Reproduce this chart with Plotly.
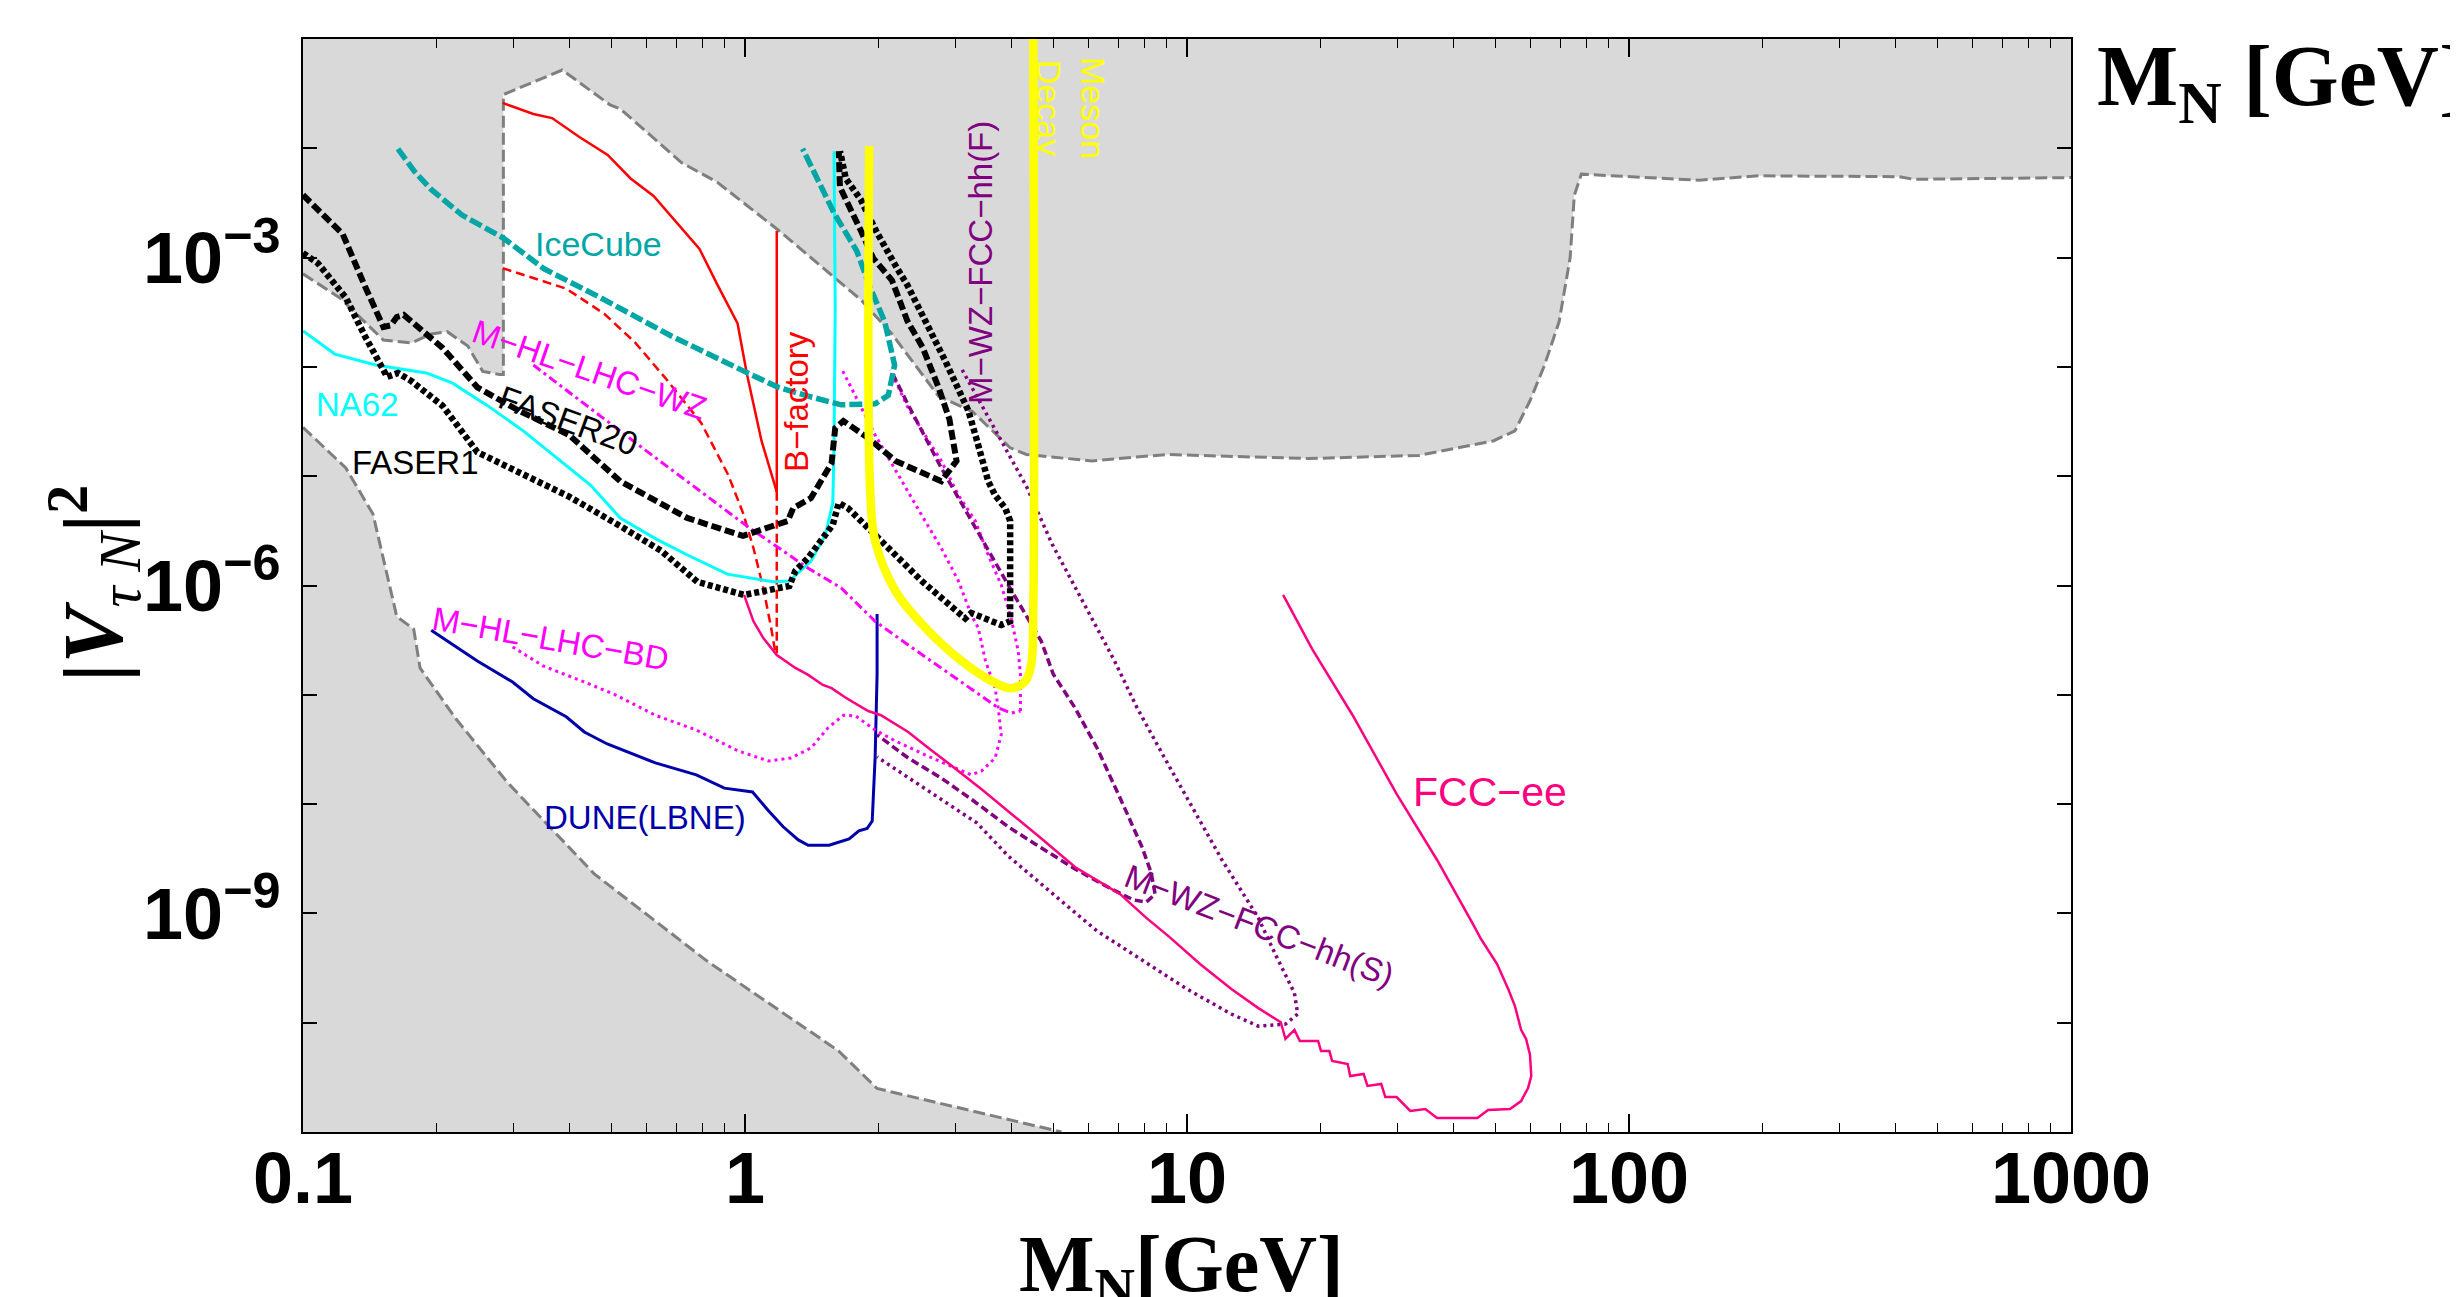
import plotly.graph_objects as go

# ---------------- data ----------------
# upper excluded (grey) region boundary
upper_excl_m = [0.1, 0.121, 0.152, 0.176, 0.195, 0.212, 0.236, 0.255, 0.279, 0.284, 0.284, 0.386, 0.495, 0.522,
                0.718, 0.865, 1.19, 1.50, 1.83, 2.15, 2.74, 3.27, 3.98, 4.33, 6.08, 9.0, 18.8, 33.5, 49.3, 55.2,
                59.7, 64.3, 69.5, 73.6, 75.2, 78.0, 144, 196, 408, 441, 1000]
upper_excl_v = [7.1e-4, 4.3e-4, 1.76e-4, 1.66e-4, 2.0e-4, 2.1e-4, 1.55e-4, 9.1e-5, 8.5e-5, 8.5e-5, 3.1e-2, 5.2e-2,
                2.5e-2, 2.3e-2, 7.4e-3, 4.9e-3, 1.78e-3, 8.1e-4, 4.1e-4, 2.0e-4, 5.4e-5, 3.9e-5, 1.82e-5, 1.58e-5,
                1.38e-5, 1.58e-5, 1.45e-5, 1.55e-5, 2.1e-5, 2.6e-5, 4.9e-5, 1.02e-4, 2.6e-4, 1.0e-3, 3.7e-3,
                5.8e-3, 5.1e-3, 5.6e-3, 5.5e-3, 5.2e-3, 5.4e-3]
upper_excl_corner_m = [1000, 0.1]
upper_excl_corner_v = [0.1, 0.1]

# lower-left excluded (grey) region boundary
lower_excl_m = [0.1, 0.125, 0.144, 0.163, 0.178, 0.184, 0.222, 0.290, 0.456, 0.818, 1.63, 1.99, 5.2]
lower_excl_v = [2.8e-5, 1.19e-5, 4.5e-6, 5.2e-7, 4.0e-7, 1.76e-7, 6.0e-8, 1.58e-8, 2.3e-9, 3.7e-10, 5.5e-11,
                2.5e-11, 1e-11]
lower_excl_corner_m = [0.1]
lower_excl_corner_v = [1e-11]

icecube_m = [0.164, 0.179, 0.195, 0.229, 0.284, 0.351, 0.471, 0.681, 0.991, 1.19, 1.39, 1.65, 1.97, 2.11, 2.18,
             2.07, 1.91, 1.79, 1.59, 1.35]
icecube_v = [9.9e-3, 6.1e-3, 4.2e-3, 2.45e-3, 1.51e-3, 7.9e-4, 4.3e-4, 1.92e-4, 9.2e-5, 6.5e-5, 5.4e-5, 4.5e-5,
             4.6e-5, 5.5e-5, 1.04e-4, 2.6e-4, 5.6e-4, 1.15e-3, 2.56e-3, 9.9e-3]

bfac_solid_m = [0.283, 0.332, 0.366, 0.422, 0.489, 0.551, 0.621, 0.700, 0.789, 0.867, 0.962, 1.01, 1.09, 1.18]
bfac_solid_v = [2.6e-2, 2.06e-2, 1.89e-2, 1.27e-2, 8.7e-3, 5.3e-3, 3.66e-3, 2.12e-3, 1.2e-3, 5.6e-4, 2.5e-4,
                8.6e-5, 2.1e-5, 7.2e-6]
bfac_dash_m = [0.283, 0.332, 0.394, 0.481, 0.565, 0.664, 0.796, 0.916, 0.99, 1.045, 1.10, 1.146, 1.17]
bfac_dash_v = [8.0e-4, 6.5e-4, 5.2e-4, 3.05e-4, 1.66e-4, 7.7e-5, 3.07e-5, 1.03e-5, 4.6e-6, 2.2e-6, 9.5e-7,
               4.1e-7, 2.5e-7]
bfac_vert_m = [1.18, 1.18]
bfac_vert_solid_v = [1.75e-3, 7.2e-6]
bfac_vert_dash_v = [7.2e-6, 2.4e-7]

na62_m = [0.1, 0.118, 0.146, 0.190, 0.218, 0.262, 0.315, 0.371, 0.447, 0.522, 0.630, 0.741, 0.912, 1.16, 1.26,
          1.41, 1.52, 1.58, 1.59, 1.60, 1.59]
na62_v = [2.13e-4, 1.31e-4, 1.04e-4, 8.8e-5, 7.1e-5, 4.4e-5, 2.6e-5, 1.53e-5, 8.3e-6, 4.15e-6, 2.66e-6, 1.9e-6,
          1.27e-6, 1.08e-6, 1.1e-6, 1.67e-6, 2.9e-6, 5.7e-6, 1.81e-5, 3.5e-4, 9.4e-3]

faser20_m = [0.1, 0.123, 0.138, 0.152, 0.158, 0.163, 0.169, 0.207, 0.248, 0.307, 0.400, 0.522, 0.740, 0.99, 1.25,
             1.285, 1.41, 1.57, 1.60, 1.67, 1.90, 2.19, 2.78, 3.01, 2.90, 2.74, 2.52, 2.33, 2.15, 1.95, 1.83,
             1.64, 1.63]
faser20_v = [3.74e-3, 1.64e-3, 5.5e-4, 2.32e-4, 2.4e-4, 2.86e-4, 2.99e-4, 1.49e-4, 6.5e-5, 4.0e-5, 2.38e-5,
             9.0e-6, 4.15e-6, 2.84e-6, 3.9e-6, 5.1e-6, 6.3e-6, 1.32e-5, 2.76e-5, 3.2e-5, 2.23e-5, 1.38e-5, 9.0e-6,
             1.38e-5, 3.33e-5, 6.5e-5, 1.52e-4, 2.63e-4, 6.2e-4, 9.9e-4, 1.75e-3, 4.4e-3, 9.4e-3]

faser1_m = [0.1, 0.108, 0.125, 0.138, 0.155, 0.164, 0.176, 0.207, 0.248, 0.307, 0.400, 0.522, 0.647, 0.780, 0.995,
            1.26, 1.30, 1.39, 1.58, 1.63, 1.71, 1.97, 2.11, 2.51, 3.15, 3.25, 3.80, 3.98, 3.98, 3.88, 3.68, 3.55,
            3.33, 3.20, 2.84, 2.57, 2.33, 2.20, 1.98, 1.83, 1.69, 1.64]
faser1_v = [1.1e-3, 8.9e-4, 4.3e-4, 1.92e-4, 8.1e-5, 8.8e-5, 7.4e-5, 4.4e-5, 1.66e-5, 1.09e-5, 6.5e-6, 3.5e-6,
            2.07e-6, 1.08e-6, 8.2e-7, 9.9e-7, 1.36e-6, 1.79e-6, 3.6e-6, 5.7e-6, 5.1e-6, 2.9e-6, 2.2e-6, 1.1e-6,
            5.0e-7, 5.6e-7, 4.35e-7, 4.7e-7, 3.9e-6, 5.1e-6, 6.7e-6, 9.0e-6, 2.29e-5, 4.0e-5, 1.13e-4, 2.63e-4,
            5.6e-4, 8.2e-4, 1.75e-3, 3.36e-3, 5.3e-3, 9.4e-3]

meson_m = [1.91, 1.92, 1.97, 2.19, 2.56, 3.09, 3.61, 4.0, 4.31, 4.44, 4.49, 4.49]
meson_v = [1.05e-2, 7.3e-6, 2.55e-6, 8.9e-7, 4.1e-7, 2.04e-7, 1.34e-7, 1.15e-7, 1.34e-7, 1.87e-7, 6.2e-7, 1e-1]

dune_m = [0.195, 0.248, 0.298, 0.332, 0.394, 0.433, 0.488, 0.627, 0.776, 0.898, 1.04, 1.13, 1.22, 1.32, 1.39,
          1.55, 1.72, 1.81, 1.89, 1.94, 1.97, 1.99, 1.99]
dune_v = [3.9e-7, 2.04e-7, 1.31e-7, 9.2e-8, 6.3e-8, 4.57e-8, 3.55e-8, 2.38e-8, 1.85e-8, 1.40e-8, 1.29e-8, 8.7e-9,
          6.2e-9, 4.7e-9, 4.2e-9, 4.2e-9, 4.8e-9, 5.7e-9, 6.0e-9, 7.0e-9, 2.7e-8, 1.55e-7, 5.5e-7]

hl_bd_m = [0.298, 0.350, 0.433, 0.509, 0.627, 0.776, 0.966, 1.13, 1.27, 1.41, 1.54, 1.67, 1.78, 1.97, 2.19, 2.56,
           2.99, 3.25, 3.43, 3.68, 3.80, 3.74, 3.68, 3.50, 3.37, 3.25, 3.04, 2.78, 2.51, 2.22, 1.97, 1.80, 1.65]
hl_bd_v = [2.74e-7, 1.83e-7, 1.31e-7, 1.0e-7, 6.5e-8, 4.76e-8, 3.06e-8, 2.48e-8, 2.64e-8, 3.26e-8, 4.97e-8,
           6.5e-8, 6.4e-8, 4.76e-8, 3.78e-8, 2.81e-8, 2.14e-8, 1.85e-8, 2.01e-8, 2.64e-8, 4.3e-8, 7.6e-8,
           1.15e-7, 2.04e-7, 4.1e-7, 5.4e-7, 1.1e-6, 2.2e-6, 4.4e-6, 1.03e-5, 2.38e-5, 4.9e-5, 9.8e-5]

hl_wz_lower_m = [0.332, 0.594, 1.01, 1.17, 1.39, 1.65, 1.97, 2.34, 2.78, 3.32, 3.74, 4.0, 4.2]
hl_wz_lower_v = [1.04e-4, 1.74e-5, 3.5e-6, 2.34e-6, 1.44e-6, 9.5e-7, 4.7e-7, 2.86e-7, 1.76e-7, 1.08e-7, 7.6e-8,
                 6.8e-8, 7.1e-8]
hl_wz_upper_m = [4.2, 4.2, 4.15, 4.0, 3.80, 3.55, 3.32, 3.04, 2.78, 2.56, 2.34, 2.13]
hl_wz_upper_v = [7.1e-8, 1.52e-7, 2.52e-7, 5.0e-7, 1.01e-6, 1.9e-6, 3.9e-6, 6.7e-6, 1.38e-5, 2.38e-5, 4.2e-5,
                 9.4e-5]

fcchh_dash_m = [2.16, 2.34, 2.78, 3.32, 3.94, 4.68, 4.98, 5.58, 6.26, 7.21, 7.92, 8.30, 8.47, 8.09, 7.56, 6.75,
                5.58, 4.54, 3.94, 3.27, 2.78, 2.34, 1.99]
fcchh_dash_v = [8.6e-5, 4.5e-5, 1.19e-5, 3.36e-6, 1.01e-6, 3.1e-7, 1.55e-7, 7.6e-8, 3.26e-8, 9.4e-9, 4.0e-9,
                2.34e-9, 1.5e-9, 1.27e-9, 1.33e-9, 1.67e-9, 2.55e-9, 4.3e-9, 6.2e-9, 1.09e-8, 1.73e-8, 2.64e-8,
                4.3e-8]

fcchh_dot_m = [3.10, 3.76, 4.33, 4.95, 5.82, 6.84, 7.71, 8.87, 12.0, 14.5, 15.9, 17.5, 17.8, 16.7, 14.5, 12.6,
               10.0, 7.92, 6.26, 4.98, 3.94, 3.35, 2.57, 1.99]
fcchh_dot_v = [9.4e-5, 2.29e-5, 8.1e-6, 2.4e-6, 7.1e-7, 2.08e-7, 7.6e-8, 2.7e-8, 3.08e-9, 9.1e-10, 4.1e-10,
               1.87e-10, 1.2e-10, 9.7e-11, 9.3e-11, 1.2e-10, 2.03e-10, 3.75e-10, 6.9e-10, 1.5e-9, 3.35e-9, 6.7e-9,
               1.35e-8, 2.7e-8]

fccee_m = [0.995, 1.045, 1.10, 1.18, 1.30, 1.39, 1.50, 1.57, 1.69, 1.90, 2.03, 2.34, 2.60, 2.88, 3.44, 3.93, 4.61,
           5.58, 7.06, 8.09, 9.12, 10.7, 12.6, 14.5, 16.3, 16.7, 17.5, 18.0, 19.8, 20.1, 21.0, 21.3, 23.1, 23.4,
           25.1, 25.6, 27.5, 28.1, 29.8, 32.0, 34.6, 36.8, 45.4, 48.0, 53.8, 57.0, 59.1, 60.1, 59.7, 58.5, 57.0,
           55.2, 53.3, 50.3, 46.3, 44.2, 36.8, 29.8, 23.7, 19.2, 16.5]
fccee_v = [8.2e-7, 4.7e-7, 3.3e-7, 2.31e-7, 1.76e-7, 1.52e-7, 1.23e-7, 1.15e-7, 9.4e-8, 7.1e-8, 6.5e-8, 4.57e-8,
           3.26e-8, 2.38e-8, 1.35e-8, 8.7e-9, 5.1e-9, 2.66e-9, 1.5e-9, 9.1e-10, 6.1e-10, 3.44e-10, 2.03e-10,
           1.36e-10, 1.01e-10, 7.1e-11, 8.6e-11, 6.8e-11, 6.8e-11, 5.5e-11, 5.5e-11, 4.46e-11, 4.19e-11,
           3.25e-11, 3.4e-11, 2.64e-11, 2.75e-11, 2.09e-11, 2.09e-11, 1.56e-11, 1.62e-11, 1.34e-11, 1.34e-11,
           1.59e-11, 1.62e-11, 1.92e-11, 2.52e-11, 3.25e-11, 5.1e-11, 7.1e-11, 8.6e-11, 1.42e-10, 2.03e-10,
           3.44e-10, 5.8e-10, 8.2e-10, 3.08e-9, 1.24e-8, 6.5e-8, 2.62e-7, 8.2e-7]

x_tick_vals = [0.1, 1, 10, 100, 1000]
x_tick_text = ["0.1", "1", "10", "100", "1000"]
y_tick_vals = [1e-1, 1e-2, 1e-3, 1e-4, 1e-5, 1e-6, 1e-7, 1e-8, 1e-9, 1e-10, 1e-11]
y_tick_text = ["", "", "10<sup>\u22123</sup>", "", "", "10<sup>\u22126</sup>", "", "", "10<sup>\u22129</sup>", "", ""]

# ---------------- figure ----------------
W, H = 2458, 1297
ML, MR, MT, MB = 295, 395, 31, 173
PW, PH = W - ML - MR, H - MT - MB


def px(xp, yp):
    return (xp - ML) / PW, (H - MB - yp) / PH


GREY_FILL = "#d9d9d9"
GREY_LINE = "#7f7f7f"
TEAL = "#00a6a6"
PURPLE = "#800080"
PINK = "#ff0080"
NAVY = "#0000aa"

fig = go.Figure()


def line(xs, ys, color, width, dash="solid", shape="linear"):
    fig.add_trace(go.Scatter(x=xs, y=ys, mode="lines", hoverinfo="skip",
                             line=dict(color=color, width=width, dash=dash, shape=shape)))


# excluded regions
fig.add_trace(go.Scatter(x=upper_excl_m + upper_excl_corner_m, y=upper_excl_v + upper_excl_corner_v,
                         fill="toself", fillcolor=GREY_FILL, mode="lines", line=dict(width=0), hoverinfo="skip"))
fig.add_trace(go.Scatter(x=lower_excl_m + lower_excl_corner_m, y=lower_excl_v + lower_excl_corner_v,
                         fill="toself", fillcolor=GREY_FILL, mode="lines", line=dict(width=0), hoverinfo="skip"))
line(upper_excl_m, upper_excl_v, GREY_LINE, 3, "12px,5px")
line(lower_excl_m, lower_excl_v, GREY_LINE, 3, "12px,5px")

# curves
line(bfac_solid_m, bfac_solid_v, "#ff0000", 2.5)
line(bfac_dash_m, bfac_dash_v, "#ff0000", 2.5, "9px,5px")
line(bfac_vert_m, bfac_vert_solid_v, "#ff0000", 2.5)
line(bfac_vert_m, bfac_vert_dash_v, "#ff0000", 2.5, "9px,5px")
line(na62_m, na62_v, "#00ffff", 3)
line(dune_m, dune_v, NAVY, 3)
line(hl_bd_m, hl_bd_v, "#ff00ff", 3, "3px,4px")
line(hl_wz_lower_m, hl_wz_lower_v, "#ff00ff", 3, "9px,4px,3px,4px")
line(hl_wz_upper_m, hl_wz_upper_v, "#ff00ff", 3, "3px,4px")
line(fcchh_dash_m, fcchh_dash_v, PURPLE, 3.5, "8px,4px")
line(fcchh_dot_m, fcchh_dot_v, PURPLE, 3.5, "3px,4px")
line(fccee_m, fccee_v, PINK, 2.5)
line(icecube_m, icecube_v, TEAL, 5.5, "13px,4px")
line(faser20_m, faser20_v, "#000000", 6, "10px,4px")
line(faser1_m, faser1_v, "#000000", 6.5, "5px,3px")
line(meson_m, meson_v, "#ffff00", 8.5, shape="spline")

# curve labels: text, x px, y px, colour, size, angle
labels = [
    ("IceCube", 590, 236, TEAL, 34, 0),
    ("NA62", 349, 396, "#00ffff", 33, 0),
    ("FASER1", 407, 454, "#000000", 33, 0),
    ("FASER20", 560, 412, "#000000", 33, 20),
    ("M\u2212HL\u2212LHC\u2212WZ", 581, 362, "#ff00ff", 33, 19),
    ("M\u2212HL\u2212LHC\u2212BD", 542, 630, "#ff00ff", 33, 10),
    ("B\u2212factory", 788, 394, "#ff0000", 33, -90),
    ("Meson<br>Decay", 1063, 100, "#ffff00", 34, 90),
    ("M\u2212WZ\u2212FCC\u2212hh(F)", 972, 255, PURPLE, 33, -90),
    ("M\u2212WZ\u2212FCC\u2212hh(S)", 1251, 917, PURPLE, 33, 21),
    ("FCC\u2212ee", 1482, 784, PINK, 41, 0),
    ("DUNE(LBNE)", 637, 810, NAVY, 33, 0),
]
annotations = []
for text, xp, yp, col, size, ang in labels:
    ax, ay = px(xp, yp)
    annotations.append(dict(text=text, x=ax, y=ay, xref="paper", yref="paper", showarrow=False,
                            xanchor="center", yanchor="middle", textangle=ang,
                            font=dict(family="Liberation Sans", size=size, color=col)))

serif = "Liberation Serif"
ax, ay = px(86, 576)
annotations.append(dict(text="<b>|</b><b><i>V</i></b><sub><i>\u03c4 N</i></sub><b>|</b><sup><b>2</b></sup>",
                        x=ax, y=ay, xref="paper", yref="paper", showarrow=False, textangle=-90,
                        xanchor="center", yanchor="middle", font=dict(family=serif, size=84, color="black")))
ax, ay = px(1173, 1262)
annotations.append(dict(text="<b>M</b><sub><b>N</b></sub><b>[GeV]</b>", x=ax, y=ay, xref="paper", yref="paper",
                        showarrow=False, xanchor="center", yanchor="middle",
                        font=dict(family=serif, size=80, color="black")))
ax, ay = px(2087, 74)
annotations.append(dict(text="<b>M</b><sub><b>N</b></sub><b> [GeV]</b>", x=ax, y=ay, xref="paper", yref="paper",
                        showarrow=False, xanchor="left", yanchor="middle",
                        font=dict(family=serif, size=86, color="black")))

minor_x = [k * 10.0 ** d for d in (-1, 0, 1, 2) for k in range(2, 10)]
tickfont = dict(family="Liberation Sans", size=72, color="black", weight="bold")

fig.update_layout(
    width=W, height=H, margin=dict(l=ML, r=MR, t=MT, b=MB, autoexpand=False),
    plot_bgcolor="white", paper_bgcolor="white", showlegend=False,
    annotations=annotations,
    xaxis=dict(type="log", range=[-1, 3], showline=True, linecolor="black", linewidth=2, mirror="ticks",
               ticks="inside", ticklen=18, tickwidth=1.5, tickcolor="black",
               tickmode="array", tickvals=x_tick_vals, ticktext=x_tick_text, tickfont=tickfont,
               showgrid=False, zeroline=False, ticklabelstandoff=-17,
               minor=dict(tickmode="array", tickvals=minor_x, ticks="inside", ticklen=9, tickwidth=1.2,
                          tickcolor="black", showgrid=False)),
    yaxis=dict(type="log", range=[-11, -1], showline=True, linecolor="black", linewidth=2, mirror="ticks",
               ticks="inside", ticklen=14, tickwidth=1.5, tickcolor="black",
               tickmode="array", tickvals=y_tick_vals, ticktext=y_tick_text, tickfont=tickfont,
               showgrid=False, zeroline=False, ticklabelstandoff=6),
)

fig.write_html("out.html")
